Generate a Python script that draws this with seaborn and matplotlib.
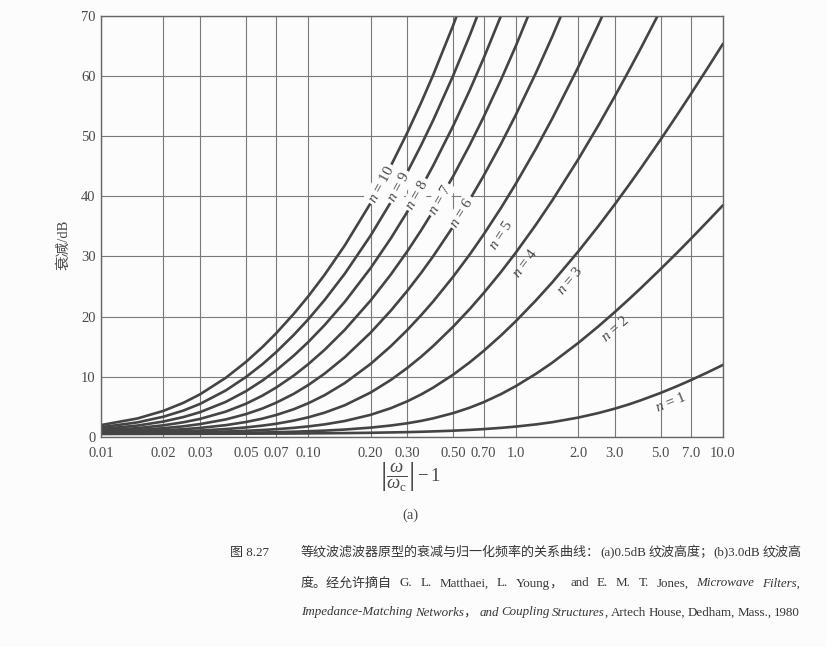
import numpy as np
import pandas as pd
import seaborn as sns
import matplotlib
matplotlib.use("Agg")
import matplotlib.pyplot as plt

nan = np.nan

# normalized frequency |w/wc| - 1
x_vals = [0.01, 0.015, 0.02, 0.025, 0.03, 0.04, 0.05, 0.06, 0.07, 0.085, 0.1, 0.12,
          0.15, 0.2, 0.25, 0.3, 0.35, 0.4, 0.5, 0.6, 0.7, 0.85, 1.0, 1.25, 1.5, 2.0,
          2.5, 3.0, 3.5, 4.0, 5.0, 6.0, 7.0, 8.5, 10.0]

# attenuation (dB) read for each filter order n (curves leave the chart at 70 dB)
att_n1 = [0.51, 0.51, 0.52, 0.52, 0.53, 0.54, 0.55, 0.56, 0.57, 0.58, 0.60, 0.62,
          0.65, 0.70, 0.76, 0.81, 0.87, 0.93, 1.05, 1.18, 1.31, 1.52, 1.73, 2.09, 2.46,
          3.22, 3.97, 4.70, 5.40, 6.08, 7.32, 8.44, 9.45, 10.80, 11.98]
att_n2 = [0.54, 0.56, 0.58, 0.60, 0.62, 0.66, 0.71, 0.75, 0.80, 0.88, 0.96, 1.06,
          1.24, 1.56, 1.91, 2.28, 2.68, 3.10, 3.97, 4.87, 5.78, 7.13, 8.44, 10.48, 12.34,
          15.60, 18.35, 20.73, 22.82, 24.68, 27.90, 30.60, 32.94, 35.95, 38.51]
att_n3 = [0.59, 0.64, 0.69, 0.74, 0.79, 0.91, 1.03, 1.16, 1.30, 1.52, 1.76, 2.10,
          2.66, 3.69, 4.79, 5.93, 7.07, 8.20, 10.37, 12.40, 14.29, 16.88, 19.22, 22.67,
          25.68, 30.78, 35.00, 38.61, 41.77, 44.58, 49.41, 53.48, 56.99, 61.50, 65.34]
att_n4 = [0.66, 0.76, 0.86, 0.96, 1.07, 1.32, 1.59, 1.89, 2.20, 2.72, 3.27, 4.05,
          5.28, 7.40, 9.48, 11.47, 13.34, 15.11, 18.35, 21.25, 23.89, 27.43, 30.60, 35.24,
          39.28, 46.09, 51.72, 56.54, 60.75, 64.49, 70.93]
att_n5 = [0.77, 0.93, 1.11, 1.30, 1.51, 1.97, 2.49, 3.05, 3.66, 4.61, 5.61, 6.96,
          8.97, 12.16, 15.09, 17.77, 20.24, 22.52, 26.65, 30.31, 33.63, 38.07, 42.04, 47.84,
          52.89, 61.40, 68.44, 74.46]
att_n6 = [0.91, 1.17, 1.46, 1.78, 2.14, 2.92, 3.80, 4.73, 5.70, 7.17, 8.64, 10.55,
          13.27, 17.36, 21.00, 24.28, 27.27, 30.03, 35.00, 39.41, 43.38, 48.72, 53.48, 60.44,
          66.50, 76.71]
att_n7 = [1.09, 1.48, 1.94, 2.45, 3.00, 4.22, 5.52, 6.87, 8.22, 10.20, 12.11, 14.51,
          17.82, 22.71, 27.00, 30.84, 34.34, 37.56, 43.36, 48.50, 53.14, 59.37, 64.92, 73.04]
att_n8 = [1.33, 1.90, 2.57, 3.32, 4.12, 5.84, 7.61, 9.37, 11.07, 13.51, 15.79, 18.62,
          22.47, 28.10, 33.01, 37.41, 41.41, 45.09, 51.72, 57.60, 62.89, 70.01, 76.36]
att_n9 = [1.62, 2.43, 3.37, 4.40, 5.49, 7.74, 9.96, 12.08, 14.11, 16.95, 19.57, 22.79,
          27.15, 33.50, 39.03, 43.98, 48.48, 52.62, 60.08, 66.69, 72.65]
att_n10 = [1.98, 3.08, 4.34, 5.69, 7.08, 9.84, 12.47, 14.93, 17.24, 20.45, 23.39, 26.99,
           31.85, 38.90, 45.05, 50.55, 55.55, 60.15, 68.44, 75.78]

orders = [1, 2, 3, 4, 5, 6, 7, 8, 9, 10]
series = [att_n1, att_n2, att_n3, att_n4, att_n5, att_n6, att_n7, att_n8, att_n9, att_n10]

x_ticks = [0.01, 0.02, 0.03, 0.05, 0.07, 0.1, 0.2, 0.3, 0.5, 0.7, 1.0, 2.0, 3.0, 5.0, 7.0, 10.0]
x_tick_labels = ["0.01", "0.02", "0.03", "0.05", "0.07", "0.10", "0.20", "0.30", "0.50",
                 "0.70", "1.0", "2.0", "3.0", "5.0", "7.0", "10.0"]
y_ticks = [0, 10, 20, 30, 40, 50, 60, 70]

# label placement along each curve (x position, perpendicular offset in points)
label_x = {1: 5.3, 2: 2.75, 3: 1.65, 4: 0.98, 5: 0.74, 6: 0.55, 7: 0.43, 8: 0.335, 9: 0.274, 10: 0.224}
label_off = {1: 9, 2: 9, 3: 9, 4: 10, 5: 11, 6: 0, 7: 0, 8: 0, 9: 0, 10: 0}

rows = []
for n, vals in zip(orders, series):
    for xv, yv in zip(x_vals, vals):
        rows.append({"x": xv, "att": yv, "n": n})
df = pd.DataFrame(rows)

sns.set_theme(style="white")
plt.rcParams["font.family"] = ["Liberation Serif", "Noto Sans CJK SC"]
plt.rcParams["mathtext.fontset"] = "custom"
plt.rcParams["mathtext.rm"] = "Liberation Serif"
plt.rcParams["mathtext.it"] = "Liberation Serif:italic"
plt.rcParams["mathtext.bf"] = "Liberation Serif:bold"

BG = "#fcfcfc"
LINE = "#444444"
GRID = "#7a7a7a"
TXT = "#4a4a4a"

W, H = 826, 647
fig = plt.figure(figsize=(W / 100, H / 100), dpi=100, facecolor=BG)
ax = fig.add_axes([101 / W, 1 - 437 / H, 622 / W, (437 - 15.7) / H])
ax.set_facecolor(BG)

sns.lineplot(data=df, x="x", y="att", hue="n", palette=[LINE] * len(orders),
             linewidth=1.9, legend=False, ax=ax, estimator=None, sort=True)

ax.set_xscale("log")
ax.set_xlim(0.01, 10.0)
ax.set_ylim(0, 70)
ax.set_xticks(x_ticks)
ax.set_xticklabels(x_tick_labels)
ax.xaxis.set_minor_locator(matplotlib.ticker.NullLocator())
ax.set_yticks(y_ticks)
ax.set_yticklabels([str(v) for v in y_ticks])
ax.tick_params(axis="both", length=0, labelsize=10.5, colors=TXT)
ax.tick_params(axis="x", pad=7)
ax.tick_params(axis="y", pad=4)
ax.grid(True, which="major", color=GRID, linewidth=0.8)
for sp in ax.spines.values():
    sp.set_color("#666666")
    sp.set_linewidth(1.0)

ax.set_xlabel(r"$\left|\dfrac{\omega}{\omega_\mathrm{c}}\right| - 1$", fontsize=13.5, color=TXT)
ax.xaxis.set_label_coords((410 - 101) / 622, (437 - 460) / 421.3)
ax.set_ylabel("衰减/dB", fontsize=10.5, color=TXT)
ax.yaxis.set_label_coords((70 - 101) / 622, (437 - 245) / 421.3)

fig.text(410 / W, 1 - 515 / H, "(a)", ha="center", va="center", fontsize=10.5, color=TXT)

# curve labels
fig.canvas.draw()
for n, vals in zip(orders, series):
    xs = np.log10(x_vals[:len(vals)])
    ys = np.array(vals)
    lx = label_x[n]
    ly = np.interp(np.log10(lx), xs, ys)
    ya = np.interp(np.log10(lx) - 0.03, xs, ys)
    yb = np.interp(np.log10(lx) + 0.03, xs, ys)
    p1 = ax.transData.transform((lx / 10 ** 0.03, ya))
    p2 = ax.transData.transform((lx * 10 ** 0.03, yb))
    ang = np.degrees(np.arctan2(p2[1] - p1[1], p2[0] - p1[0]))
    d = label_off[n]
    ox = d * np.sin(np.radians(ang))
    oy = -d * np.cos(np.radians(ang))
    kw = dict(boxstyle="square,pad=0.12", fc=BG, ec="none") if d == 0 else None
    ax.annotate(r"$n$ = %d" % n, xy=(lx, ly), xytext=(ox, oy), textcoords="offset points",
                ha="center", va="center", rotation=ang, rotation_mode="anchor",
                fontsize=11, color=TXT, bbox=kw, zorder=5)

# caption
renderer = fig.canvas.get_renderer()
CJK_SIZE = 9.4
LAT_SIZE = 9.4
CAPC = "#353535"


def is_cjk(ch):
    return ord(ch) >= 0x2E80


def runs_of(text, style):
    out = []
    cur = ""
    cur_c = None
    for ch in text:
        c = is_cjk(ch)
        if cur and c != cur_c:
            out.append((cur, style, cur_c))
            cur = ""
        cur += ch
        cur_c = c
    if cur:
        out.append((cur, style, cur_c))
    return out


def text_kw(style, cjk):
    if cjk:
        return dict(fontsize=CJK_SIZE, family=["Noto Sans CJK SC"], fontstyle="normal")
    return dict(fontsize=LAT_SIZE, family=["Liberation Serif", "Noto Sans CJK SC"], fontstyle=style)


def measure(text, style, cjk):
    t = fig.text(0, 0, text, **text_kw(style, cjk))
    w = t.get_window_extent(renderer).width
    t.remove()
    return w


def split_words(pieces):
    words = []
    new_word = True
    for text, style in pieces:
        parts = text.split(" ")
        for i, p in enumerate(parts):
            if p == "":
                continue
            if i == 0 and words and not new_word:
                words[-1].extend(runs_of(p, style))
            else:
                words.append(runs_of(p, style))
        new_word = text.endswith(" ")
    return words


def justify(pieces, x0, x1, ypix):
    words = split_words(pieces)
    widths = [sum(measure(t, s, c) for t, s, c in wd) for wd in words]
    gap = (x1 - x0 - sum(widths)) / max(len(words) - 1, 1)
    gap = max(gap, 2.5)
    x = x0
    for wd, wdw in zip(words, widths):
        xx = x
        for t, s, c in wd:
            fig.text(xx / W, 1 - ypix / H, t, ha="left", va="center_baseline",
                     color=CAPC, **text_kw(s, c))
            xx += measure(t, s, c)
        x += wdw + gap


def plain(pieces, x0, ypix):
    x = x0
    for text, style in pieces:
        for t, s, c in runs_of(text, style):
            fig.text(x / W, 1 - ypix / H, t, ha="left", va="center_baseline",
                     color=CAPC, **text_kw(s, c))
            x += measure(t, s, c)


plain([("图 8.27", "normal")], 230, 551)
justify([("等纹波滤波器原型的衰减与归一化频率的关系曲线：(a)0.5dB 纹波高度；(b)3.0dB 纹波高", "normal")],
        301, 800, 551)
justify([("度。经允许摘自 G. L. Matthaei, L. Young， and E. M. T. Jones, ", "normal"),
         ("Microwave Filters,", "italic")], 301, 800, 582)
justify([("Impedance-Matching Networks， and Coupling Structures", "italic"),
         (", Artech House, Dedham, Mass., 1980", "normal")], 301, 800, 611)

fig.savefig("out.png", dpi=100, facecolor=BG)
